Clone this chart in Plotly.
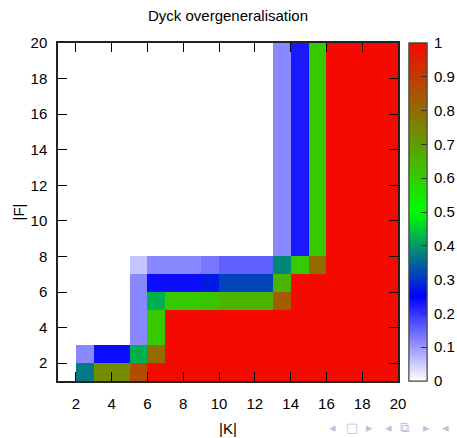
import plotly.graph_objects as go

# Cell edges (|K| on x, |F| on y)
K_edges = list(range(1, 21))
F_edges = list(range(1, 21))

# Values per row (bottom edge |F| = 1 .. 7), 19 cells each (|K| = 1 .. 19); None = blank
f1 = [None, 0.37, 0.735, 0.735, 0.867, 1, 1, 1, 1, 1, 1, 1, 1, 1, 1, 1, 1, 1, 1]
f2 = [None, 0.117, 0.238, 0.238, 0.422, 0.80, 1, 1, 1, 1, 1, 1, 1, 1, 1, 1, 1, 1, 1]
f3 = [None, None, None, None, 0.117, 0.61, 1, 1, 1, 1, 1, 1, 1, 1, 1, 1, 1, 1, 1]
f4 = [None, None, None, None, 0.117, 0.61, 1, 1, 1, 1, 1, 1, 1, 1, 1, 1, 1, 1, 1]
f5 = [None, None, None, None, 0.117, 0.422, 0.61, 0.61, 0.625, 0.653, 0.653, 0.653, 0.833, 1, 1, 1, 1, 1, 1]
f6 = [None, None, None, None, 0.117, 0.238, 0.238, 0.238, 0.275, 0.317, 0.317, 0.317, 0.653, 1, 1, 1, 1, 1, 1]
f7 = [None, None, None, None, 0.058, 0.117, 0.117, 0.117, 0.133, 0.156, 0.156, 0.156, 0.382, 0.61, 0.80, 1, 1, 1, 1]
# rows |F| = 8 .. 19 all read the same
f_upper = [None, None, None, None, None, None, None, None, None, None, None, None, 0.117, 0.225, 0.61, 1, 1, 1, 1]

z = [f1, f2, f3, f4, f5, f6, f7] + [f_upper] * 12

x_ticks = [2, 4, 6, 8, 10, 12, 14, 16, 18, 20]
y_ticks = [2, 4, 6, 8, 10, 12, 14, 16, 18, 20]
cb_ticks = [0, 0.1, 0.2, 0.3, 0.4, 0.5, 0.6, 0.7, 0.8, 0.9, 1]
cb_labels = ["0", "0.1", "0.2", "0.3", "0.4", "0.5", "0.6", "0.7", "0.8", "0.9", "1"]

colorscale = [
    [0.0, "rgb(255,255,255)"],
    [0.25, "rgb(0,0,255)"],
    [0.5, "rgb(0,255,0)"],
    [1.0, "rgb(244,10,0)"],
]

FONT = "Liberation Sans, Arial, sans-serif"
FS = 15

cb_base = dict(
    x=(409 - 58) / 340,
    xanchor="left",
    xpad=0,
    y=0.5,
    yanchor="middle",
    len=1,
    lenmode="fraction",
    ypad=0,
    thickness=18,
    thicknessmode="pixels",
    outlinecolor="#444",
    outlinewidth=1,
    tickmode="array",
    tickvals=cb_ticks,
)

fig = go.Figure()
fig.add_trace(
    go.Heatmap(
        x=K_edges,
        y=F_edges,
        z=z,
        zmin=0,
        zmax=1,
        colorscale=colorscale,
        hoverongaps=False,
        colorbar=dict(
            **cb_base,
            ticktext=cb_labels,
            ticks="outside",
            ticklen=4,
            tickcolor="rgba(0,0,0,0)",
            tickfont=dict(family=FONT, size=FS, color="black"),
        ),
    )
)
# overlay colorbar carrying the small inside tick marks
fig.add_trace(
    go.Scatter(
        x=[None],
        y=[None],
        mode="markers",
        hoverinfo="skip",
        showlegend=False,
        marker=dict(
            color=[0.5],
            cmin=0,
            cmax=1,
            colorscale=colorscale,
            showscale=True,
            colorbar=dict(
                **cb_base,
                ticks="inside",
                ticklen=6,
                tickcolor="#333",
                showticklabels=False,
            ),
        ),
    )
)

axis_common = dict(
    showgrid=False,
    zeroline=False,
    showline=True,
    linecolor="#222",
    linewidth=1.5,
    mirror="ticks",
    ticks="inside",
    ticklen=9,
    tickwidth=1,
    tickcolor="black",
    automargin=False,
    tickfont=dict(family=FONT, size=FS, color="black"),
)

fig.update_xaxes(
    range=[1, 20],
    tickmode="array",
    tickvals=x_ticks,
    ticktext=[str(v) for v in x_ticks],
    ticklabelstandoff=8,
    title=dict(text="|K|", font=dict(family=FONT, size=FS, color="black"), standoff=13),
    **axis_common,
)
fig.update_yaxes(
    range=[1, 20],
    tickmode="array",
    tickvals=y_ticks,
    ticktext=[str(v) for v in y_ticks],
    ticklabelstandoff=6,
    title=dict(text="|F|", font=dict(family=FONT, size=FS, color="black"), standoff=2),
    **axis_common,
)

# Beamer navigation symbols (bottom-right)
nav_syms = ["◂", "□", "▸", "◂", "⧉", "▸", "◂"]
nav_px = [332, 352, 369, 388, 404, 426, 445]
annotations = []
for s, px in zip(nav_syms, nav_px):
    annotations.append(
        dict(
            text=s,
            x=(px - 58) / 340,
            y=(381 - 427) / 338,
            xref="paper",
            yref="paper",
            xanchor="center",
            yanchor="middle",
            showarrow=False,
            font=dict(family="DejaVu Sans", size=13, color="#BCC3E0"),
        )
    )

fig.update_layout(
    width=457,
    height=438,
    margin=dict(l=58, r=59, t=43, b=57, pad=0, autoexpand=False),
    paper_bgcolor="white",
    plot_bgcolor="white",
    title=dict(
        text="Dyck overgeneralisation",
        x=228 / 457,
        xanchor="center",
        y=1 - 16 / 438,
        yanchor="middle",
        font=dict(family=FONT, size=FS, color="black"),
    ),
    annotations=annotations,
    showlegend=False,
)

fig.write_html(
    "out.html",
    config={"displayModeBar": False},
    post_script="document.body.style.margin='0';",
)
